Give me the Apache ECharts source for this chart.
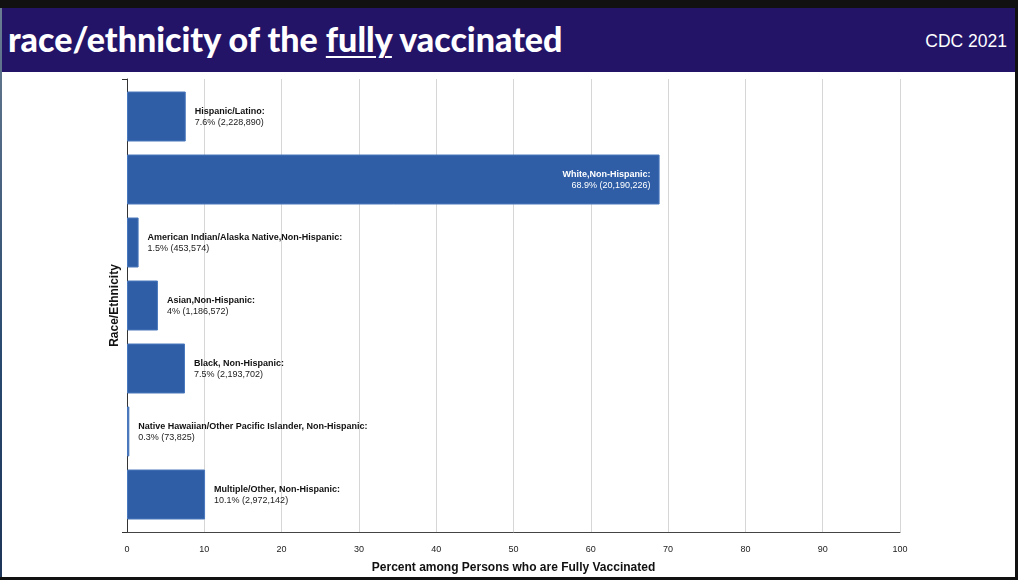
<!DOCTYPE html>
<html>
<head>
<meta charset="utf-8">
<script src="https://cdn.jsdelivr.net/npm/echarts@6/dist/echarts.min.js"></script>
<style>
  html, body { margin: 0; padding: 0; }
  body { width: 1018px; height: 580px; background: #111; position: relative; overflow: hidden; }
  #edge { position: absolute; left: 0; top: 8px; width: 2px; height: 569px; background: linear-gradient(#6a7d92, #2a4a70 60%, #1d3558); }
  #frame { position: absolute; left: 2px; top: 8px; width: 1013px; height: 569px; background: #fff; }
  #band { position: absolute; left: 2px; top: 8px; width: 1013px; height: 64px; background: #231468; }
  #title { position: absolute; left: 8px; top: 19px; font-family: Lato, sans-serif; font-weight: 900; font-size: 34px; line-height: 40px; color: #fff; white-space: nowrap; }
  #title u { text-decoration-thickness: 2px; text-underline-offset: 4px; }
  #src { position: absolute; right: 11px; top: 30px; font-family: "Liberation Sans", Arial, sans-serif; font-size: 17.5px; line-height: 22px; color: #fff; }
  #chart { position: absolute; left: 0; top: 0; width: 1018px; height: 580px; }
</style>
</head>
<body>
<div id="edge"></div>
<div id="frame"></div>
<div id="band"></div>
<div id="title">race/ethnicity of the <u>fully</u> vaccinated</div>
<div id="src">CDC 2021</div>
<div id="chart"></div>
<script>
// race/ethnicity groups, share of fully vaccinated (%) and head counts
const groups = [
  "Hispanic/Latino",
  "White,Non-Hispanic",
  "American Indian/Alaska Native,Non-Hispanic",
  "Asian,Non-Hispanic",
  "Black, Non-Hispanic",
  "Native Hawaiian/Other Pacific Islander, Non-Hispanic",
  "Multiple/Other, Non-Hispanic"
]
const percents = [7.6, 68.9, 1.5, 4, 7.5, 0.3, 10.1]
const counts = [2228890, 20190226, 453574, 1186572, 2193702, 73825, 2972142]
// groups whose label sits inside the bar
const insideLabel = ["White,Non-Hispanic"]

const barColor = "#2f5ea6"

function labelText(i) {
  return "{b|" + groups[i] + ":}\n{v|" + percents[i] + "% (" + counts[i].toLocaleString("en-US") + ")}"
}

const barData = percents.map((p, i) => {
  let item = {value: p}
  if (insideLabel.includes(groups[i])) {
    item.label = {
      position: "insideRight",
      distance: 9,
      align: "right",
      color: "#fff",
      rich: {
        b: {fontWeight: "bold", fontSize: 9, lineHeight: 11, color: "#fff", align: "right"},
        v: {fontSize: 9, lineHeight: 11, color: "#fff", align: "right"}
      }
    }
  }
  return item
})

const chart = echarts.init(document.getElementById("chart"))
chart.setOption({
  animation: false,
  textStyle: {fontFamily: "Liberation Sans, Arial, sans-serif"},
  grid: [
    {left: 127, right: 118, top: 85, bottom: 54},
    {left: 127, right: 118, top: 79, bottom: 48}
  ],
  xAxis: [
    {gridIndex: 0, type: "value", min: 0, max: 100, show: false},
    {
      gridIndex: 1, type: "value", min: 0, max: 100, interval: 10,
      axisLine: {show: true, lineStyle: {color: "#444", width: 1}},
      axisTick: {show: false},
      axisLabel: {fontSize: 9, color: "#222", margin: 13},
      splitLine: {show: true, lineStyle: {color: "#d6d6d6", width: 1}},
      name: "Percent among Persons who are Fully Vaccinated",
      nameLocation: "middle",
      nameGap: 30,
      nameTextStyle: {fontSize: 12, fontWeight: "bold", color: "#111"}
    }
  ],
  yAxis: [
    {gridIndex: 0, type: "category", data: groups, inverse: true, show: false},
    {
      gridIndex: 1, type: "value", min: 0, max: 1, interval: 1,
      axisLine: {show: true, lineStyle: {color: "#333", width: 1}},
      axisTick: {show: true, length: 5, lineStyle: {color: "#333"}},
      axisLabel: {show: false},
      splitLine: {show: false},
      name: "Race/Ethnicity",
      nameLocation: "middle",
      nameGap: 6,
      nameTextStyle: {fontSize: 12, fontWeight: "bold", color: "#111"}
    }
  ],
  series: [{
    type: "bar",
    xAxisIndex: 0,
    yAxisIndex: 0,
    barWidth: 50,
    data: barData,
    itemStyle: {color: barColor, borderColor: "#4a78bd", borderWidth: 1},
    label: {
      show: true,
      position: "right",
      distance: 9,
      offset: [0, 1],
      formatter: p => labelText(p.dataIndex),
      rich: {
        b: {fontWeight: "bold", fontSize: 9, lineHeight: 11, color: "#111"},
        v: {fontSize: 9, lineHeight: 11, color: "#222"}
      }
    }
  }]
})
</script>
</body>
</html>
